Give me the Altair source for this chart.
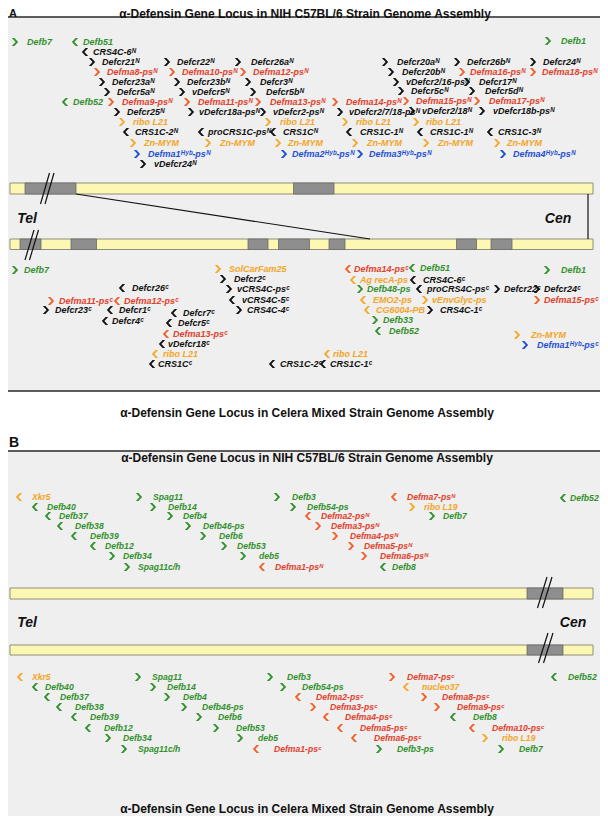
import altair as alt
import pandas as pd

# ---------------- gene annotations: (label, arrow x, row y, direction, colour key[, label gap])
A_NIH = [
    ("Defb7", 15, 42, ">", "g", 12), ("Defb51", 75, 42, "<", "g", 8),
    ("CRS4C-6ᴺ", 85, 52, "<", "k", 8), ("Defcr21ᴺ", 92, 62, ">", "k"),
    ("Defma8-psᴺ", 97, 72, ">", "r"), ("Defcr23aᴺ", 102, 82, ">", "k"),
    ("Defcr5aᴺ", 107, 92, ">", "k"), ("Defb52", 65, 102, "<", "g", 8),
    ("Defma9-psᴺ", 111, 102, ">", "r", 11), ("Defcr25ᴺ", 117, 112, ">", "k"),
    ("ribo L21", 122, 122, ">", "o", 11), ("CRS1C-2ᴺ", 126, 132, "<", "k", 9),
    ("Zn-MYM", 133, 143, ">", "o", 11), ("Defma1ᴴʸᵇ-psᴺ", 137, 154, ">", "u", 11),
    ("vDefcr24ᴺ", 143, 164, ">", "k", 11),
    ("Defcr22ᴺ", 167, 62, ">", "k"), ("Defma10-psᴺ", 172, 72, ">", "r"),
    ("Defcr23bᴺ", 177, 82, ">", "k"), ("vDefcr5ᴺ", 182, 92, ">", "k"),
    ("Defma11-psᴺ", 187, 102, ">", "r", 11), ("vDefcr18a-psᴺ", 191, 112, ">", "k", 8),
    ("proCRS1C-psᴺ", 201, 132, "<", "k", 7), ("Zn-MYM", 208, 143, ">", "o", 12),
    ("Defcr26aᴺ", 238, 62, ">", "k", 13), ("Defma12-psᴺ", 243, 72, ">", "r"),
    ("Defcr3ᴺ", 248, 82, ">", "k", 12), ("Defcr5bᴺ", 253, 92, ">", "k", 13),
    ("Defma13-psᴺ", 258, 102, ">", "r", 12), ("vDefcr2-psᴺ", 263, 112, ">", "k"),
    ("ribo L21", 268, 122, ">", "o", 12), ("CRS1Cᴺ", 273, 132, "<", "k"),
    ("Zn-MYM", 278, 143, ">", "o"), ("Defma2ᴴʸᵇ-psᴺ", 284, 154, ">", "u", 8),
    ("Defma14-psᴺ", 335, 102, ">", "r", 11), ("vDefcr2/7/18-psᴺ", 340, 112, ">", "k", 9),
    ("ribo L21", 345, 122, ">", "o", 11), ("CRS1C-1ᴺ", 349, 132, "<", "k", 11),
    ("Zn-MYM", 355, 143, ">", "o", 12), ("Defma3ᴴʸᵇ-psᴺ", 360, 154, ">", "u", 9),
    ("Defcr20aᴺ", 385, 62, ">", "k", 12), ("Defcr20bᴺ", 391, 72, ">", "k", 11),
    ("vDefcr2/16-psᴺ", 396, 82, ">", "k"), ("Defcr5cᴺ", 401, 91, ">", "k"),
    ("Defma15-psᴺ", 406, 101, ">", "r"), ("vDefcr2/18ᴺ", 412, 111, ">", "k"),
    ("ribo L21", 416, 122, ">", "o"), ("CRS1C-1ᴺ", 420, 132, "<", "k"),
    ("Zn-MYM", 426, 143, ">", "o", 12),
    ("Defcr26bᴺ", 457, 62, ">", "k"), ("Defma16-psᴺ", 462, 72, ">", "r", 8),
    ("Defcr17ᴺ", 467, 82, ">", "k", 12), ("Defcr5dᴺ", 472, 91, ">", "k", 13),
    ("Defma17-psᴺ", 477, 101, ">", "r", 12), ("vDefcr18b-psᴺ", 482, 111, ">", "k", 11),
    ("CRS1C-3ᴺ", 490, 132, "<", "k", 8), ("Zn-MYM", 497, 143, ">", "o"),
    ("Defma4ᴴʸᵇ-psᴺ", 503, 154, ">", "u"),
    ("Defcr24ᴺ", 533, 62, ">", "k"), ("Defma18-psᴺ", 533, 72, ">", "r", 9),
    ("Defb1", 548, 41, ">", "g", 13),
]

A_CEL = [
    ("Defb7", 15, 270, ">", "g"), ("Defcr26ᶜ", 122, 288, "<", "k", 10),
    ("Defma11-psᶜ", 51, 301, ">", "r", 8), ("Defma12-psᶜ", 117, 301, "<", "r", 7),
    ("Defcr23ᶜ", 46, 310, ">", "k"), ("Defcr1ᶜ", 110, 310, "<", "k"),
    ("Defcr4ᶜ", 105, 321, "<", "k", 7), ("Defcr7ᶜ", 174, 313, "<", "k"),
    ("Defcr5ᶜ", 169, 323, "<", "k"), ("Defma13-psᶜ", 166, 334, "<", "r", 7),
    ("vDefcr18ᶜ", 162, 344, "<", "k", 6), ("ribo L21", 155, 354, "<", "o", 8),
    ("CRS1Cᶜ", 152, 364, "<", "k", 6),
    ("SolCarFam25", 218, 269, ">", "o", 11), ("Defcr2ᶜ", 223, 279, ">", "k", 11),
    ("vCRS4C-psᶜ", 229, 289, ">", "k", 8), ("vCRS4C-5ᶜ", 232, 300, "<", "k", 10),
    ("CRS4C-4ᶜ", 239, 310, ">", "k", 8),
    ("Defma14-psᶜ", 348, 269, "<", "r", 6), ("Defb51", 412, 268, "<", "g", 8),
    ("Ag recA-ps", 353, 280, "<", "o", 7), ("CRS4C-6ᶜ", 413, 280, "<", "k", 10),
    ("Defb48-ps", 360, 289, ">", "g", 7), ("proCRS4C-psᶜ", 419, 289, "<", "k", 8),
    ("Defcr22ᶜ", 497, 289, ">", "k", 7), ("Defcr24ᶜ", 537, 289, ">", "k", 7),
    ("EMO2-ps", 363, 300, "<", "o", 10), ("vEnvGlyc-ps", 425, 300, ">", "o", 7),
    ("Defma15-psᶜ", 537, 300, ">", "r", 7), ("CG6004-PB", 367, 310, "<", "o"),
    ("CRS4C-1ᶜ", 430, 310, ">", "k", 10), ("Defb33", 375, 320, ">", "g", 8),
    ("Defb52", 378, 331, "<", "g", 11), ("Defb1", 547, 270, ">", "g", 14),
    ("Zn-MYM", 517, 335, ">", "o", 14), ("Defma1ᴴʸᵇ-psᶜ", 525, 345, ">", "u", 12),
    ("ribo L21", 327, 354, "<", "o", 6), ("CRS1C-2ᶜ", 272, 364, "<", "k", 8),
    ("CRS1C-1ᶜ", 323, 364, "<", "k", 7),
]

B_NIH = [
    ("Xkr5", 19, 497, "<", "o"), ("Defb40", 35, 507, "<", "g", 12),
    ("Defb37", 48, 516, "<", "g", 11), ("Defb38", 60, 526, "<", "g", 15),
    ("Defb39", 74, 536, "<", "g", 16), ("Defb12", 93, 546, "<", "g", 12),
    ("Defb34", 112, 556, ">", "g", 11), ("Spag11c/h", 127, 567, ">", "g", 11),
    ("Spag11", 139, 497, ">", "g", 14), ("Defb14", 153, 507, ">", "g", 15),
    ("Defb4", 170, 516, ">", "g"), ("Defb46-ps", 188, 526, ">", "g", 15),
    ("Defb6", 203, 536, ">", "g", 16), ("Defb53", 224, 546, ">", "g"),
    ("deb5", 243, 556, ">", "g", 16), ("Defma1-psᴺ", 262, 567, "<", "r"),
    ("Defb3", 277, 497, ">", "g", 15), ("Defb54-ps", 293, 507, ">", "g", 14),
    ("Defma2-psᴺ", 308, 516, "<", "r"), ("Defma3-psᴺ", 318, 526, ">", "r"),
    ("Defma4-psᴺ", 335, 536, ">", "r", 15), ("Defma5-psᴺ", 351, 546, ">", "r"),
    ("Defma6-psᴺ", 364, 556, ">", "r", 16), ("Defb8", 383, 567, "<", "g", 9),
    ("Defma7-psᴺ", 394, 497, "<", "r"), ("ribo L19", 412, 507, ">", "o", 12),
    ("Defb7", 432, 516, ">", "g", 11), ("Defb52", 563, 498, "<", "g", 7),
]

B_CEL = [
    ("Xkr5", 20, 677, "<", "o", 12), ("Defb40", 35, 687, "<", "g", 10),
    ("Defb37", 47, 697, "<", "g", 13), ("Defb38", 59, 707, "<", "g"),
    ("Defb39", 74, 717, "<", "g"), ("Defb12", 88, 728, "<", "g"),
    ("Defb34", 108, 738, ">", "g", 15), ("Spag11c/h", 124, 749, ">", "g", 14),
    ("Spag11", 138, 677, ">", "g", 14), ("Defb14", 153, 687, ">", "g", 14),
    ("Defb4", 167, 697, ">", "g"), ("Defb46-ps", 184, 707, ">", "g", 18),
    ("Defb6", 199, 717, ">", "g", 19), ("Defb53", 216, 728, ">", "g", 20),
    ("deb5", 240, 738, ">", "g", 18), ("Defma1-psᶜ", 256, 749, "<", "r", 18),
    ("Defb3", 270, 677, ">", "g", 17), ("Defb54-ps", 283, 687, ">", "g", 19),
    ("Defma2-psᶜ", 298, 697, "<", "r", 18), ("Defma3-psᶜ", 313, 707, ">", "r", 17),
    ("Defma4-psᶜ", 326, 717, "<", "r", 19), ("Defma5-psᶜ", 340, 728, "<", "r", 20),
    ("Defma6-psᶜ", 354, 738, "<", "r", 20), ("Defb3-ps", 379, 749, ">", "g", 18),
    ("Defma7-psᶜ", 392, 677, ">", "r", 15), ("nucleo37", 406, 687, "<", "o"),
    ("Defma8-psᶜ", 424, 697, ">", "r", 18), ("Defma9-psᶜ", 437, 707, ">", "r", 20),
    ("Defb8", 453, 717, "<", "g", 20), ("Defma10-psᶜ", 472, 728, "<", "r", 20),
    ("ribo L19", 485, 738, ">", "o", 17), ("Defb7", 501, 749, ">", "g", 18),
    ("Defb52", 554, 677, "<", "g", 14),
]

# default label gap from arrow for each gene block, and font size
BLOCKS = [("A_NIH", A_NIH, 10, 9.0), ("A_CEL", A_CEL, 9, 9.0),
          ("B_NIH", B_NIH, 13, 8.6), ("B_CEL", B_CEL, 16, 8.6)]

TEXT_COL = {"g": "#33912d", "k": "#111111", "r": "#e2402c", "o": "#f5a427", "u": "#1f4fd6"}
ARROW_COL = {"g": "#33912d", "k": "#111111", "r": "#f2602a", "o": "#f7a829", "u": "#1f4fd6"}

# ---------------- chromosome drawing: (x1, x2, y1, y2)
PANELS = [(1, 606, 17, 391), (1, 606, 451, 825)]
BARS = [(10, 593, 183, 194), (10, 593, 239, 249.5),
        (10, 593, 588, 599), (10, 593, 645, 655)]
GREY = [(25, 76, 183, 194), (293.5, 334, 183, 194),
        (20, 41, 239, 249.5), (71, 96.5, 239, 249.5), (248, 268, 239, 249.5),
        (278.5, 309.5, 239, 249.5), (329, 345, 239, 249.5),
        (456.5, 476.5, 239, 249.5), (491, 512, 239, 249.5),
        (527, 563, 588, 599), (527, 563, 645, 655)]
# lines: (x1, y1, x2, y2)
LINES = [(76, 194, 370, 239), (588, 194, 588, 239),
         (49.5, 173, 40.5, 204), (54, 173, 45, 204),
         (34, 230, 25, 260), (38.5, 230, 29.5, 260),
         (547, 577, 537.5, 608), (552, 577, 542.5, 608),
         (548, 633, 538.5, 663), (553, 633, 543.5, 663)]

TITLES = [("α-Defensin Gene Locus in NIH C57BL/6 Strain Genome Assembly", 305, 14),
          ("α-Defensin Gene Locus in Celera Mixed Strain Genome Assembly", 307, 413),
          ("α-Defensin Gene Locus in NIH C57BL/6 Strain Genome Assembly", 307, 458),
          ("α-Defensin Gene Locus in Celera Mixed Strain Genome Assembly", 307, 809)]
LETTERS = [("A", 9, 16.5, 11), ("B", 9, 447, 14)]
ENDS = [("Tel", 27, 219), ("Cen", 558, 219), ("Tel", 27, 623), ("Cen", 573, 623)]

# ---------------- build tables
rows = []
for name, genes, gap, fs in BLOCKS:
    for g in genes:
        lab, x, y, d, c = g[:5]
        gp = g[5] if len(g) > 5 else gap
        rows.append(dict(label=lab, x=x, y=y, dir=d, tx=x + gp, fs=fs,
                         tcol=TEXT_COL[c], acol=ARROW_COL[c]))
genes = pd.DataFrame(rows)

rects = pd.DataFrame(
    [dict(x=a, x2=b, y=c, y2=d, fill="#eeefee", stroke="#2a2a2a", sw=1.6) for a, b, c, d in PANELS]
    + [dict(x=a, x2=b, y=c, y2=d, fill="#fdf7b4", stroke="#8f8f78", sw=1.0) for a, b, c, d in BARS]
    + [dict(x=a, x2=b, y=c, y2=d, fill="#8e8e8e", stroke="#6a6a6a", sw=0.8) for a, b, c, d in GREY]
)
lines = pd.DataFrame([dict(x=a, y=b, x2=c, y2=d) for a, b, c, d in LINES])
titles = pd.DataFrame([dict(t=t, x=x, y=y) for t, x, y in TITLES])
letters = pd.DataFrame([dict(t=t, x=x, y=y, fs=s) for t, x, y, s in LETTERS])
ends = pd.DataFrame([dict(t=t, x=x, y=y) for t, x, y in ENDS])

XS = alt.Scale(domain=[8, 600], nice=False, zero=False)
YS = alt.Scale(domain=[8, 816], nice=False, zero=False, reverse=True)

def X(f):
    return alt.X(f, type="quantitative", scale=XS, axis=None)

def Y(f):
    return alt.Y(f, type="quantitative", scale=YS, axis=None)

rect_layer = alt.Chart(rects).mark_rect().encode(
    x=X("x"), x2="x2", y=Y("y"), y2="y2",
    fill=alt.Fill("fill:N", scale=None), stroke=alt.Stroke("stroke:N", scale=None),
    strokeWidth=alt.StrokeWidth("sw:Q", scale=None))

line_layer = alt.Chart(lines).mark_rule(color="#111111", strokeWidth=1.2).encode(
    x=X("x"), y=Y("y"), x2="x2", y2="y2")

RIGHT = "M-0.8,-1L-0.15,-1L0.8,0L-0.15,1L-0.8,1L0.15,0Z"
LEFT = "M0.8,-1L0.15,-1L-0.8,0L0.15,1L0.8,1L-0.15,0Z"

arrow_r = alt.Chart(genes[genes.dir == ">"]).mark_point(
    shape=RIGHT, filled=True, size=62, opacity=1, strokeWidth=0).encode(
    x=X("x"), y=Y("y"), color=alt.Color("acol:N", scale=None))
arrow_l = alt.Chart(genes[genes.dir == "<"]).mark_point(
    shape=LEFT, filled=True, size=62, opacity=1, strokeWidth=0).encode(
    x=X("x"), y=Y("y"), color=alt.Color("acol:N", scale=None))

gene_text = alt.Chart(genes).mark_text(
    align="left", baseline="middle", font="Liberation Sans",
    fontStyle="italic", fontWeight="bold").encode(
    x=X("tx"), y=Y("y"), text="label:N",
    color=alt.Color("tcol:N", scale=None), size=alt.Size("fs:Q", scale=None))

title_text = alt.Chart(titles).mark_text(
    align="center", baseline="middle", font="Liberation Sans", fontWeight="bold",
    fontSize=12, color="#111111").encode(x=X("x"), y=Y("y"), text="t:N")

letter_text = alt.Chart(letters).mark_text(
    align="left", baseline="alphabetic", font="Liberation Sans", fontWeight="bold",
    color="#111111").encode(x=X("x"), y=Y("y"), text="t:N",
                            size=alt.Size("fs:Q", scale=None))

end_text = alt.Chart(ends).mark_text(
    align="center", baseline="middle", font="Liberation Sans", fontWeight="bold",
    fontStyle="italic", fontSize=14, color="#111111").encode(x=X("x"), y=Y("y"), text="t:N")

chart = alt.layer(
    rect_layer, line_layer, arrow_r, arrow_l, gene_text, title_text, letter_text, end_text
).properties(
    width=592, height=808, padding=0, autosize="none", background="white"
).configure_view(stroke=None)

chart.save("out.html", embed_options={"renderer": "svg", "actions": False})
